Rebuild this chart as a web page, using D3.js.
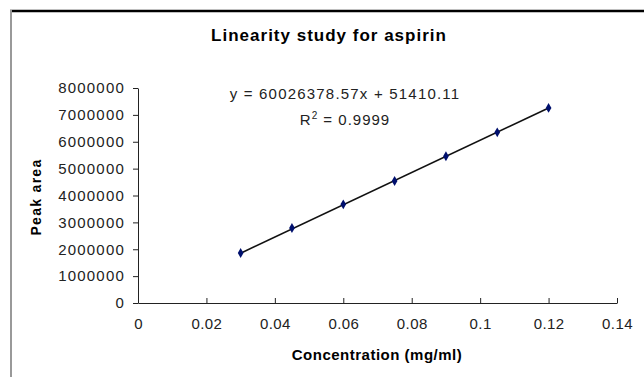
<!DOCTYPE html>
<html>
<head>
<meta charset="utf-8">
<script src="https://cdn.jsdelivr.net/npm/d3@7"></script>
<style>
  body { margin: 0; background: #fff; }
  svg { display: block; font-family: Arial, "Liberation Sans", sans-serif; }
</style>
</head>
<body>
<div id="plot"></div>
<script>
// concentration (mg/ml) and peak area
const concentration = [0.03, 0.045, 0.06, 0.075, 0.09, 0.105, 0.12];
const peakArea = [1860000, 2790000, 3670000, 4540000, 5460000, 6350000, 7260000];
const xTicks = [0, 0.02, 0.04, 0.06, 0.08, 0.1, 0.12, 0.14];
const yTicks = [0, 1000000, 2000000, 3000000, 4000000, 5000000, 6000000, 7000000, 8000000];
const slope = 60026378.57;
const intercept = 51410.11;

const W = 644, H = 377;
const svg = d3.select("#plot").append("svg")
    .attr("width", W)
    .attr("height", H);

// frame
svg.append("line").attr("x1", 10).attr("x2", W).attr("y1", 11).attr("y2", 11)
    .attr("stroke", "#000").attr("stroke-width", 2.5);
svg.append("line").attr("x1", 11).attr("x2", 11).attr("y1", 10).attr("y2", H)
    .attr("stroke", "#999").attr("stroke-width", 2);

const x = d3.scaleLinear().domain([0, 0.14]).range([138, 617]);
const y = d3.scaleLinear().domain([0, 8000000]).range([303, 88]);

// x axis, ticks pointing up
const xAxis = d3.axisBottom(x)
    .tickValues(xTicks)
    .tickFormat(d => d === 0 ? "0" : String(+d.toFixed(2)))
    .tickSizeInner(-5)
    .tickSizeOuter(0)
    .tickPadding(15);
const gx = svg.append("g")
    .attr("transform", "translate(0," + y(0) + ")")
    .call(xAxis);
gx.selectAll("text").style("font-size", "15px").style("letter-spacing", "0.4px").attr("fill", "#222");

// y axis
const yAxis = d3.axisLeft(y)
    .tickValues(yTicks)
    .tickFormat(d3.format("d"))
    .tickSizeInner(5)
    .tickSizeOuter(0)
    .tickPadding(8);
const gy = svg.append("g")
    .attr("transform", "translate(" + x(0) + ",0)")
    .call(yAxis);
gy.selectAll("text").style("font-size", "15px").style("letter-spacing", "1.2px").attr("fill", "#222");

svg.selectAll(".domain, .tick line").attr("stroke", "#222");

// trendline
const xr = d3.extent(concentration);
svg.append("line")
    .attr("x1", x(xr[0])).attr("y1", y(slope * xr[0] + intercept))
    .attr("x2", x(xr[1])).attr("y2", y(slope * xr[1] + intercept))
    .attr("stroke", "#111")
    .attr("stroke-width", 1.6);

// markers
svg.selectAll(".pt")
    .data(concentration)
    .enter()
    .append("path")
    .attr("class", "pt")
    .attr("d", d3.symbol().type(d3.symbolDiamond).size(28))
    .attr("transform", (d, i) => "translate(" + x(d) + "," + y(peakArea[i]) + ")")
    .attr("fill", "#00106e");

// title
svg.append("text")
    .attr("x", 329).attr("y", 41)
    .attr("text-anchor", "middle")
    .style("font-size", "17px").style("font-weight", "bold").style("letter-spacing", "1px")
    .text("Linearity study for aspirin");

// equation
svg.append("text")
    .attr("x", 345).attr("y", 99)
    .attr("text-anchor", "middle")
    .style("font-size", "15px").style("letter-spacing", "1.2px").attr("fill", "#222")
    .text("y = " + slope.toFixed(2) + "x + " + intercept.toFixed(2));

const r2 = svg.append("text")
    .attr("x", 345).attr("y", 125)
    .attr("text-anchor", "middle")
    .style("font-size", "15px").style("letter-spacing", "1px").attr("fill", "#222");
r2.append("tspan").text("R");
r2.append("tspan").attr("dy", -6).style("font-size", "10px").text("2");
r2.append("tspan").attr("dy", 6).text(" = 0.9999");

// axis titles
svg.append("text")
    .attr("transform", "translate(41,197) rotate(-90)")
    .attr("text-anchor", "middle")
    .style("font-size", "14px").style("font-weight", "bold").style("letter-spacing", "1.3px")
    .text("Peak area");

svg.append("text")
    .attr("x", 377).attr("y", 360)
    .attr("text-anchor", "middle")
    .style("font-size", "15px").style("font-weight", "bold").style("letter-spacing", "0.5px")
    .text("Concentration (mg/ml)");
</script>
</body>
</html>
